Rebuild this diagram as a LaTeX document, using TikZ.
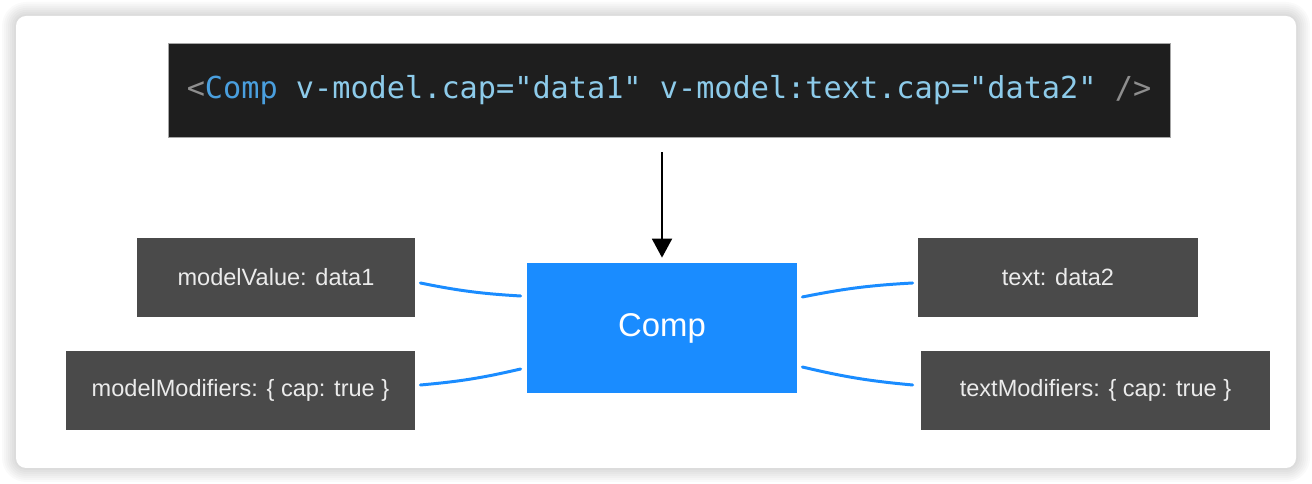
\documentclass[tikz,border=0pt]{standalone}
\usepackage{fontspec}
\setsansfont{Liberation Sans}
\setmonofont{DejaVu Sans Mono}
\usepackage{tikz}
\usetikzlibrary{arrows.meta,positioning,calc}
\usepackage{xcolor}
\definecolor{codebg}{HTML}{1E1E1E}
\definecolor{tagblue}{HTML}{4A9FDE}
\definecolor{attrblue}{HTML}{8DCBEA}
\definecolor{punctgray}{HTML}{8E8E8E}
\definecolor{compblue}{HTML}{1A8CFF}
\definecolor{propgray}{HTML}{4A4A4A}

\tikzset{
  propbox/.style={fill=propgray, text=white!92!black, minimum height=1.58cm,
    font=\sffamily\fontsize{13.4}{16}\selectfont, inner sep=0pt},
  link/.style={compblue, line width=1.7pt, line cap=round},
}

\begin{document}
\begin{tikzpicture}
  \useasboundingbox (0,0) rectangle (26.24,9.68);
  \fill[white] (0,0) rectangle (26.24,9.68);
  % soft shadow round the card
  \foreach \i in {1,...,7}
    \fill[black, opacity=0.02, rounded corners=0.2cm+\i*0.04cm]
      (0.32-\i*0.04,0.32-\i*0.04) rectangle (25.92+\i*0.04,9.36+\i*0.04);
  \fill[white, rounded corners=0.2cm] (0.32,0.32) rectangle (25.92,9.36);

  % template line
  \node[fill=codebg, draw=gray!70, line width=0.4pt, minimum width=20.04cm,
        minimum height=1.88cm, inner sep=0pt,
        font=\ttfamily\fontsize{17.2}{21}\selectfont] (code) at (13.38,7.88)
    {\textcolor{punctgray}{<}\textcolor{tagblue}{Comp}\ \textcolor{attrblue}{v-model.cap="data1" v-model:text.cap="data2"}\ \textcolor{punctgray}{/>}};

  % component
  \node[fill=compblue, text=white, minimum width=5.4cm, minimum height=2.6cm,
        font=\sffamily\fontsize{18.7}{22}\selectfont] (comp) at (13.24,3.12) {Comp};

  % props
  \node[propbox, minimum width=5.56cm] (mv) at (5.52,4.13) {modelValue: data1};
  \node[propbox, minimum width=6.98cm] (mm) at (4.81,1.87) {modelModifiers: \{ cap: true \}};
  \node[propbox, minimum width=5.6cm] (tx) at (21.16,4.13) {text: data2};
  \node[propbox, minimum width=6.98cm] (tm) at (21.91,1.87) {textModifiers: \{ cap: true \}};

  \draw[line width=1.1pt, -{Triangle[length=0.38cm,width=0.4cm]},
        shorten <=0.3cm, shorten >=0.1cm]
    (comp.north |- code.south) -- (comp.north);

  \draw[link] ($(mv.east)+(0.1,-0.11)$) to[bend right=4] ($(comp.west)+(-0.12,0.64)$);
  \draw[link] ($(mm.east)+(0.1,0.11)$) to[bend right=4] ($(comp.west)+(-0.12,-0.82)$);
  \draw[link] ($(comp.east)+(0.1,0.62)$) to[bend left=4] ($(tx.west)+(-0.1,-0.11)$);
  \draw[link] ($(comp.east)+(0.1,-0.78)$) to[bend right=4] ($(tm.west)+(-0.16,0.11)$);
\end{tikzpicture}
\end{document}
